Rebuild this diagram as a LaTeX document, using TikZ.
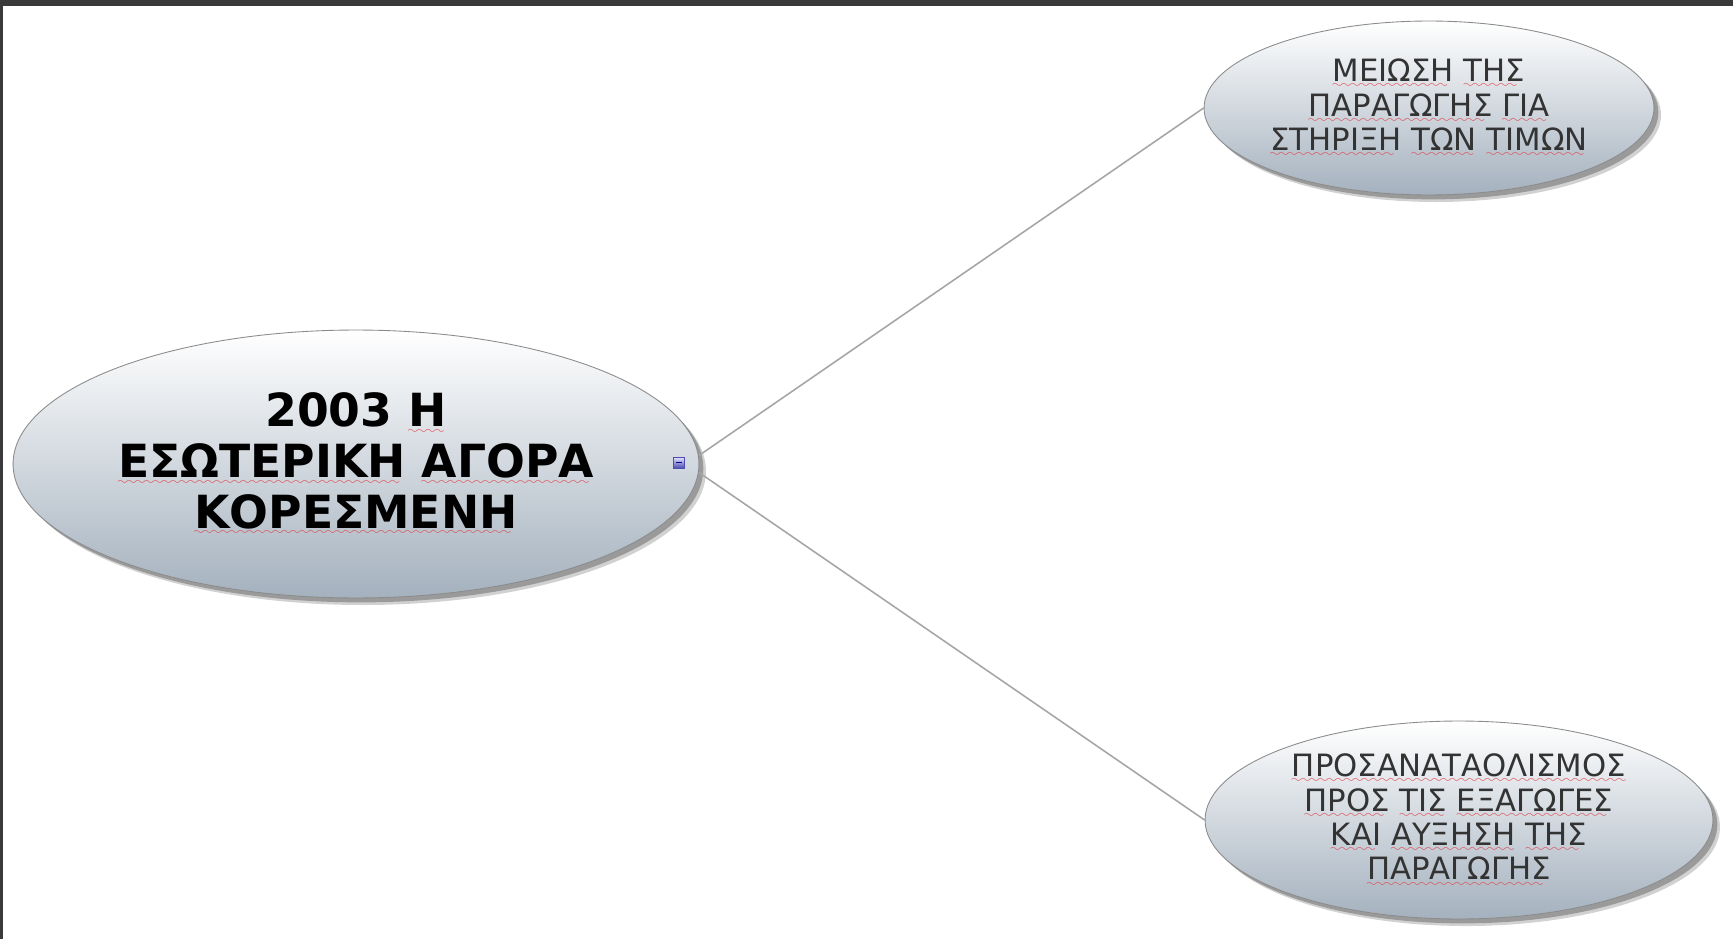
\documentclass[tikz,border=0pt]{standalone}
\usepackage{fontspec}
\setmainfont{DejaVu Sans}
\usetikzlibrary{shapes.geometric,shadows}

\definecolor{bubblelow}{RGB}{164,177,190}
\definecolor{spellred}{RGB}{225,60,70}
\definecolor{framegray}{RGB}{58,58,58}

\font\wavefont=lasy6
\newcommand\misspelt[1]{\setbox0\hbox{#1}\leavevmode
  \rlap{\textcolor{spellred}{\lower3.5pt\hbox to \wd0{\leaders\hbox{\wavefont\char58}\hfill}}}\box0\relax}

\begin{document}
\begin{tikzpicture}[x=0.02cm, y=-0.02cm,
  bubble/.style={ellipse, draw=black!45, line width=0.5pt, inner sep=0pt,
    top color=white, bottom color=bubblelow, align=center,
    drop shadow={shadow xshift=4pt, shadow yshift=-4pt, opacity=0.18, fill=black},
    drop shadow={shadow xshift=2.5pt, shadow yshift=-2.5pt, opacity=0.35, fill=black!80}},
  leaf/.style={bubble, font=\fontsize{17.5}{19.6}\selectfont, text=black!80},
  branch/.style={draw=black!35, line width=0.9pt}]

\useasboundingbox (0,0) rectangle (1733,939);

% -------- window frame -----------
\fill[framegray] (0,0) rectangle (1733,6);
\fill[framegray] (0,0) rectangle (3,939);

\node[bubble, minimum width=13.72cm, minimum height=5.36cm,
      font=\fontsize{26}{29}\selectfont\bfseries] (market) at (356,464)
  {2003 \misspelt{Η}\\
   \misspelt{ΕΣΩΤΕΡΙΚΗ} \misspelt{ΑΓΟΡΑ}\\
   \misspelt{ΚΟΡΕΣΜΕΝΗ}};

\node[leaf, minimum width=9cm, minimum height=3.48cm] (cut) at (1429,108)
  {\misspelt{ΜΕΙΩΣΗ} \misspelt{ΤΗΣ}\\
   \misspelt{ΠΑΡΑΓΩΓΗΣ} \misspelt{ΓΙΑ}\\
   \misspelt{ΣΤΗΡΙΞΗ} \misspelt{ΤΩΝ} \misspelt{ΤΙΜΩΝ}};

\node[leaf, minimum width=10.16cm, minimum height=3.96cm] (export) at (1459,820)
  {\misspelt{ΠΡΟΣΑΝΑΤΑΟΛΙΣΜΟΣ}\\
   \misspelt{ΠΡΟΣ} \misspelt{ΤΙΣ} \misspelt{ΕΞΑΓΩΓΕΣ}\\
   \misspelt{ΚΑΙ} \misspelt{ΑΥΞΗΣΗ} \misspelt{ΤΗΣ}\\
   \misspelt{ΠΑΡΑΓΩΓΗΣ}};

% -------- branches -----------
\draw[branch] ([yshift=5pt]market.east) -- (cut.west);
\draw[branch] ([yshift=-5pt]market.east) -- (export.west);

% fold button
\draw[draw=blue!40!gray, top color=blue!10, bottom color=blue!40!gray, line width=0.4pt]
  (673,457) rectangle (684,468);
\draw[blue!50!black, line width=1pt] (675.5,462.5) -- (681.5,462.5);

\end{tikzpicture}
\end{document}
